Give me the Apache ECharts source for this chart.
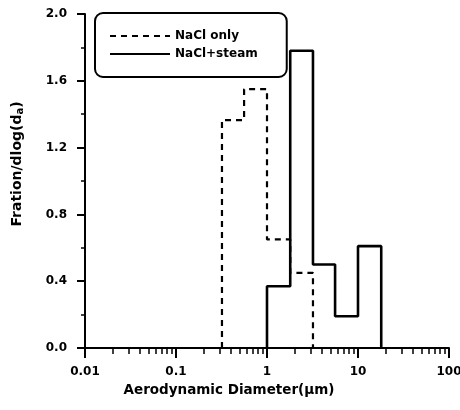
<!DOCTYPE html>
<html>
<head>
<meta charset="utf-8">
<script src="https://cdn.jsdelivr.net/npm/echarts@6/dist/echarts.min.js"></script>
<style>
  html, body { margin: 0; padding: 0; background: #fff; }
  #chart { width: 460px; height: 410px; }
</style>
</head>
<body>
<div id="chart"></div>
<script>
// impactor stage edges (um)
const edges = [0.32, 0.56, 1.0, 1.8, 3.2, 5.6, 10, 18];
// NaCl only: bins starting at 0.32
const naclOnly = [1.365, 1.55, 0.65, 0.45];
// NaCl+steam: bins starting at 1.0
const naclSteam = [0.37, 1.78, 0.5, 0.19, 0.61];
const xTicks = [0.01, 0.1, 1, 10, 100];

// minor tick positions 2..9 in each decade
const minorX = [];
for (let d = 0.01; d < 100; d *= 10) {
  for (let k = 2; k <= 9; k++) minorX.push(+(k * d).toPrecision(3));
}

// histogram outline as step line
function stepData(startIdx, values) {
  const pts = [[edges[startIdx], 0]];
  values.forEach((v, i) => pts.push([edges[startIdx + i], v]));
  pts.push([edges[startIdx + values.length], 0]);
  return pts;
}

const font = "'DejaVu Sans', sans-serif";
const chart = echarts.init(document.getElementById("chart"));

chart.setOption({
  animation: false,
  grid: { left: 85, right: 11, top: 14, bottom: 62, outerBoundsMode: "none" },
  legend: {
    left: 95,
    top: 13,
    orient: "vertical",
    data: ["NaCl only", "NaCl+steam"],
    itemWidth: 60,
    itemHeight: 12,
    itemGap: 6,
    padding: [17, 29, 17, 14],
    borderColor: "#000",
    borderWidth: 2,
    borderRadius: 8,
    itemStyle: { opacity: 0 },
    textStyle: { fontFamily: font, fontWeight: "bold", fontSize: 12, color: "#000" },
  },
  xAxis: [
    {
      type: "log",
      logBase: 10,
      min: 0.01,
      max: 100,
      axisLine: { show: true, lineStyle: { color: "#000", width: 2 } },
      axisTick: { show: true, length: 10, lineStyle: { color: "#000", width: 2 } },
      axisLabel: {
        margin: 18,
        fontFamily: font,
        fontWeight: "bold",
        fontSize: 12,
        color: "#000",
        customValues: xTicks,
        formatter: (v) => String(v),
      },
      splitLine: { show: false },
    },
    {
      type: "log",
      logBase: 10,
      min: 0.01,
      max: 100,
      position: "bottom",
      axisLine: { show: false },
      axisTick: { show: true, length: 6, customValues: minorX, lineStyle: { color: "#000", width: 1.5 } },
      axisLabel: { show: false },
      splitLine: { show: false },
    },
  ],
  yAxis: {
    type: "value",
    min: 0,
    max: 2.0,
    interval: 0.4,
    axisLine: { show: true, lineStyle: { color: "#000", width: 2 } },
    axisTick: { show: true, length: 8, lineStyle: { color: "#000", width: 2 } },
    minorTick: { show: true, splitNumber: 2, length: 4, lineStyle: { color: "#000", width: 1.5 } },
    axisLabel: {
      margin: 18,
      fontFamily: font,
      fontWeight: "bold",
      fontSize: 12,
      color: "#000",
      formatter: (v) => v.toFixed(1),
    },
    splitLine: { show: false },
  },
  graphic: [
    {
      type: "text",
      x: 229,
      y: 390,
      style: {
        text: "Aerodynamic Diameter(\u03bcm)",
        fontFamily: font,
        fontWeight: "bold",
        fontSize: 13.5,
        fill: "#000",
        align: "center",
        verticalAlign: "middle",
      },
    },
    {
      type: "text",
      x: 17,
      y: 164,
      rotation: Math.PI / 2,
      style: {
        rich: {
          b: { fontFamily: font, fontWeight: "bold", fontSize: 14, fill: "#000" },
          s: { fontFamily: font, fontWeight: "bold", fontSize: 10, fill: "#000", padding: [6, 0, 0, 0] },
        },
        text: "{b|Fration/dlog(d}{s|a}{b|)}",
        align: "center",
        verticalAlign: "middle",
      },
    },
  ],
  series: [
    {
      name: "NaCl only",
      type: "line",
      step: "end",
      symbol: "none",
      lineStyle: { color: "#000", width: 2.2, type: [6, 5] },
      itemStyle: { color: "#000" },
      data: stepData(0, naclOnly),
    },
    {
      name: "NaCl+steam",
      type: "line",
      step: "end",
      symbol: "none",
      lineStyle: { color: "#000", width: 2.6 },
      itemStyle: { color: "#000" },
      data: stepData(2, naclSteam),
    },
  ],
});
</script>
</body>
</html>
